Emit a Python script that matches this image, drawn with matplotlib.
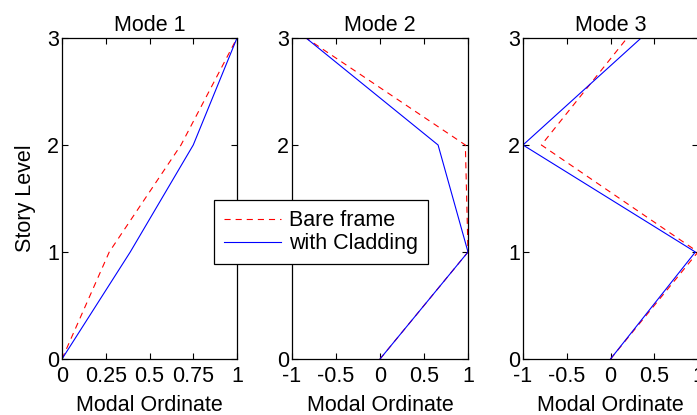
import matplotlib
matplotlib.use('Agg')
import matplotlib.pyplot as plt

plt.rcParams['font.family'] = ['Liberation Sans', 'DejaVu Sans']
plt.rcParams['font.size'] = 15.5

levels = [0, 1, 2, 3]

# mode shapes
bare_m1 = [0, 0.27, 0.68, 1]
clad_m1 = [0, 0.39, 0.75, 1]
bare_m2 = [0, 1, 0.97, -0.84]
clad_m2 = [0, 1, 0.66, -0.84]
bare_m3 = [0, 1, -0.79, 0.19]
clad_m3 = [0, 0.97, -1, 0.35]

titles = ['Mode 1', 'Mode 2', 'Mode 3']
xticks1 = [0, 0.25, 0.5, 0.75, 1]
xlabels1 = ['0', '0.25', '0.5', '0.75', '1']
xticks23 = [-1, -0.5, 0, 0.5, 1]
xlabels23 = ['-1', '-0.5', '0', '0.5', '1']

fig = plt.figure(figsize=(6.97, 4.15), dpi=100)
bottom = 1 - 359 / 415
height = (359 - 38) / 415
lefts = [62, 292, 523]
widths = [175, 176, 175]

data = [(bare_m1, clad_m1), (bare_m2, clad_m2), (bare_m3, clad_m3)]
for i in range(3):
    ax = fig.add_axes([lefts[i] / 697, bottom, widths[i] / 697, height])
    b, c = data[i]
    lb, = ax.plot(b, levels, color='red', ls=(0, (5.5, 4.5)), lw=0.8, label='Bare frame')
    lc, = ax.plot(c, levels, color='blue', lw=0.8, label='with Cladding')
    ax.set_ylim(0, 3)
    ax.set_yticks([0, 1, 2, 3])
    if i == 0:
        ax.set_xlim(0, 1)
        ax.set_xticks(xticks1)
        ax.set_xticklabels(xlabels1)
        ax.set_ylabel('Story Level', labelpad=8)
    else:
        ax.set_xlim(-1, 1)
        ax.set_xticks(xticks23)
        ax.set_xticklabels(xlabels23)
    ax.set_title(titles[i], fontsize=15.5, pad=5)
    ax.set_xlabel('Modal Ordinate', labelpad=6)
    ax.tick_params(axis='x', pad=5)
    ax.tick_params(direction='in', top=True, right=True, length=4, width=0.8)
    ax.tick_params(axis='y', pad=2)
    for s in ax.spines.values():
        s.set_linewidth(0.9)

leg = fig.legend([lb, lc], ['Bare frame', 'with Cladding'], loc='lower left',
                 bbox_to_anchor=(214 / 697, 1 - 264 / 415), borderaxespad=0,
                 fancybox=False, edgecolor='black', framealpha=1,
                 handlelength=2.65, handletextpad=0.4, borderpad=0.45,
                 labelspacing=0.1, fontsize=15.5)
leg.get_frame().set_linewidth(0.9)

fig.savefig('out.png', dpi=100)
